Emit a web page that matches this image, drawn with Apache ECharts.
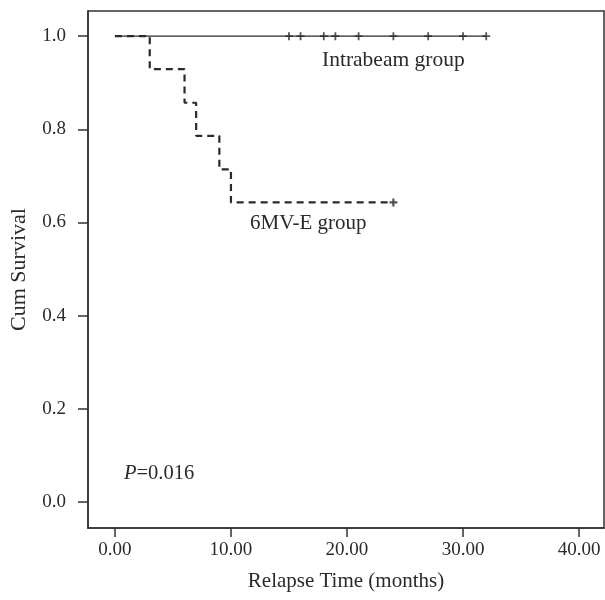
<!DOCTYPE html>
<html>
<head>
<meta charset="utf-8">
<script src="https://cdn.jsdelivr.net/npm/echarts@6/dist/echarts.min.js"></script>
<style>
  html, body { margin: 0; padding: 0; background: #fff; }
  #chart { width: 605px; height: 600px; }
</style>
</head>
<body>
<div id="chart"></div>
<script>
// tick positions
const xTicks = [0, 10, 20, 30, 40];
const yTicks = [0, 0.2, 0.4, 0.6, 0.8, 1.0];

// Intrabeam group: no events, censored cases
const intraTimes = [0, 32];
const intraSurv = [1, 1];
const intraCensor = [15, 16, 18, 19, 21, 24, 27, 30, 32];

// 6MV-E group step curve
const mvTimes = [0, 3, 6, 7, 9, 10, 24];
const mvSurv = [1, 0.929, 0.857, 0.786, 0.714, 0.643, 0.643];
const mvCensor = [24];

const ink = '#2a2a2a';
const font = 'Liberation Serif';

const chart = echarts.init(document.getElementById('chart'));

const plus = 'path://M5,0L5,10M0,5L10,5';

const option = {
  animation: false,
  grid: {
    left: 86, right: 1, top: 11, bottom: 72,
    show: true, borderColor: '#333', borderWidth: 1.5, backgroundColor: '#fff'
  },
  xAxis: {
    type: 'value',
    min: -2.32, max: 42.15,
    splitLine: { show: false },
    axisLine: { show: true, onZero: false, lineStyle: { color: '#333', width: 1.5 } },
    axisTick: { show: true, length: 9, customValues: xTicks, lineStyle: { color: '#333', width: 1.5 } },
    axisLabel: {
      customValues: xTicks,
      formatter: v => v.toFixed(2),
      margin: 13, fontSize: 19, fontFamily: font, color: ink
    },
    name: 'Relapse Time (months)',
    nameLocation: 'middle',
    nameGap: 43,
    nameTextStyle: { fontSize: 21, fontFamily: font, color: ink }
  },
  yAxis: {
    type: 'value',
    min: -0.056, max: 1.054,
    splitLine: { show: false },
    axisLine: { show: true, onZero: false, lineStyle: { color: '#333', width: 1.5 } },
    axisTick: { show: true, length: 10, customValues: yTicks, lineStyle: { color: '#333', width: 1.5 } },
    axisLabel: {
      customValues: yTicks,
      formatter: v => v.toFixed(1),
      margin: 22, fontSize: 19, fontFamily: font, color: ink
    },
    name: 'Cum Survival',
    nameLocation: 'middle',
    nameGap: 58,
    nameTextStyle: { fontSize: 22, fontFamily: font, color: ink }
  },
  series: [
    {
      name: 'Intrabeam group',
      type: 'line',
      step: 'end',
      symbol: 'none',
      lineStyle: { color: ink, width: 1.4 },
      data: intraTimes.map((t, i) => [t, intraSurv[i]]),
      z: 2
    },
    {
      name: '6MV-E group',
      type: 'line',
      step: 'end',
      symbol: 'none',
      lineStyle: { color: ink, width: 2.2, type: [7, 5] },
      data: mvTimes.map((t, i) => [t, mvSurv[i]]),
      z: 3
    },
    {
      type: 'scatter',
      symbol: plus,
      symbolSize: 8,
      itemStyle: { color: ink, borderColor: ink, borderWidth: 1.8 },
      data: intraCensor.map(t => [t, intraSurv[intraSurv.length - 1]]),
      z: 4
    },
    {
      type: 'scatter',
      symbol: plus,
      symbolSize: 8,
      itemStyle: { color: ink, borderColor: ink, borderWidth: 2.2 },
      data: mvCensor.map(t => [t, mvSurv[mvSurv.length - 1]]),
      z: 4
    }
  ],
  graphic: [
    {
      type: 'text', x: 322, y: 60,
      style: { text: 'Intrabeam group', font: '21.5px "Liberation Serif"', fill: ink, verticalAlign: 'middle' }
    },
    {
      type: 'text', x: 250, y: 223,
      style: { text: '6MV-E group', font: '21px "Liberation Serif"', fill: ink, verticalAlign: 'middle' }
    },
    {
      type: 'text', x: 124, y: 474,
      style: {
        text: '{i|P}=0.016',
        font: '20.5px "Liberation Serif"', fill: ink, verticalAlign: 'middle',
        rich: { i: { fontStyle: 'italic', fontSize: 20.5, fontFamily: font, fill: ink } }
      }
    }
  ]
};

chart.setOption(option);
</script>
</body>
</html>
